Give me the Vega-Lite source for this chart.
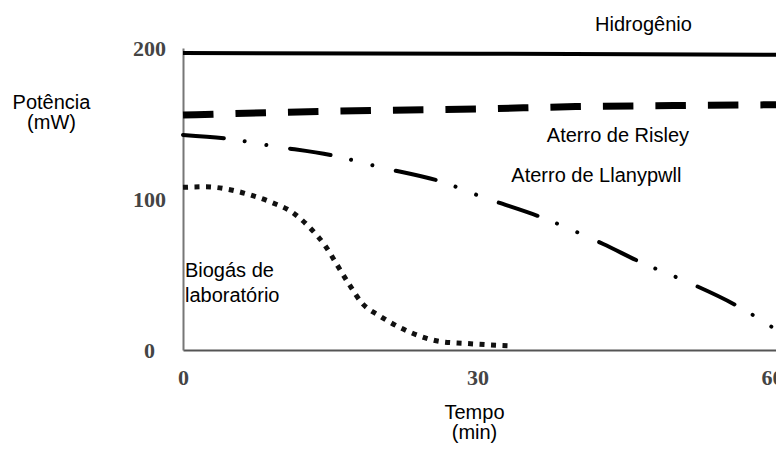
{
  "$schema": "https://vega.github.io/schema/vega-lite/v6.json",
  "width": 593,
  "height": 302,
  "autosize": {"type": "none"},
  "padding": {"left": 183, "top": 48, "right": 0, "bottom": 104},
  "background": "white",
  "config": {"view": {"stroke": null}, "font": "Liberation Sans"},
  "datasets": {
    "curves": [
      {"serie": "Hidrogênio", "t": 0, "p": 196.7},
      {"serie": "Hidrogênio", "t": 30, "p": 196.2},
      {"serie": "Hidrogênio", "t": 60.4, "p": 195.5},

      {"serie": "Risley", "t": 0, "p": 155.6},
      {"serie": "Risley", "t": 10, "p": 157.4},
      {"serie": "Risley", "t": 20, "p": 158.7},
      {"serie": "Risley", "t": 30, "p": 159.6},
      {"serie": "Risley", "t": 40, "p": 161.2},
      {"serie": "Risley", "t": 50, "p": 161.9},
      {"serie": "Risley", "t": 60.4, "p": 162.4},

      {"serie": "Llanypwll", "t": 0, "p": 142.4},
      {"serie": "Llanypwll", "t": 4.8, "p": 139.7},
      {"serie": "Llanypwll", "t": 9.1, "p": 135.1},
      {"serie": "Llanypwll", "t": 15.5, "p": 128.5},
      {"serie": "Llanypwll", "t": 20, "p": 121.2},
      {"serie": "Llanypwll", "t": 26.4, "p": 111.3},
      {"serie": "Llanypwll", "t": 30.5, "p": 101.3},
      {"serie": "Llanypwll", "t": 36.7, "p": 87.4},
      {"serie": "Llanypwll", "t": 42.8, "p": 70.2},
      {"serie": "Llanypwll", "t": 46.8, "p": 57.6},
      {"serie": "Llanypwll", "t": 50.9, "p": 46.4},
      {"serie": "Llanypwll", "t": 57, "p": 27.2},
      {"serie": "Llanypwll", "t": 60.3, "p": 13.9},

      {"serie": "Biogás", "t": 0, "p": 107.7},
      {"serie": "Biogás", "t": 2.3, "p": 108.1},
      {"serie": "Biogás", "t": 4.6, "p": 106.4},
      {"serie": "Biogás", "t": 6.9, "p": 102.6},
      {"serie": "Biogás", "t": 9.0, "p": 97.8},
      {"serie": "Biogás", "t": 11.2, "p": 90.9},
      {"serie": "Biogás", "t": 12.9, "p": 81.1},
      {"serie": "Biogás", "t": 14.5, "p": 68.9},
      {"serie": "Biogás", "t": 15.7, "p": 56.3},
      {"serie": "Biogás", "t": 16.9, "p": 43.7},
      {"serie": "Biogás", "t": 18.2, "p": 31.3},
      {"serie": "Biogás", "t": 20.0, "p": 22.7},
      {"serie": "Biogás", "t": 22.0, "p": 15.2},
      {"serie": "Biogás", "t": 24.1, "p": 9.3},
      {"serie": "Biogás", "t": 26.3, "p": 5.5},
      {"serie": "Biogás", "t": 28.7, "p": 4.4},
      {"serie": "Biogás", "t": 31.0, "p": 3.5},
      {"serie": "Biogás", "t": 33.3, "p": 2.8}
    ],
    "labels": [
      {"label": "Hidrogênio", "t": 46.9, "p": 211.3},
      {"label": "Aterro de Risley", "t": 44.3, "p": 137.5},
      {"label": "Aterro de Llanypwll", "t": 42.1, "p": 111.5}
    ],
    "sideLabels": [
      {"label": "Biogás de\nlaboratório", "t": 0.2, "p": 48.1}
    ]
  },
  "encoding": {
    "x": {
      "field": "t",
      "type": "quantitative",
      "scale": {"domain": [0, 60.4], "nice": false, "zero": false},
      "axis": {
        "values": [0, 30, 60],
        "ticks": false,
        "grid": false,
        "domainColor": "#555",
        "domainWidth": 2,
        "labelFont": "Liberation Serif",
        "labelFontSize": 22,
        "labelFontWeight": "bold",
        "labelColor": "#444",
        "labelBaseline": "middle",
        "labelPadding": 27,
        "labelFlush": false,
        "title": ["Tempo", "(min)"],
        "titleFont": "Liberation Sans",
        "titleFontSize": 20,
        "titleFontWeight": "normal",
        "titleColor": "#000",
        "titleLineHeight": 20,
        "titleAnchor": "start",
        "titleAlign": "center",
        "titleBaseline": "alphabetic",
        "titleX": 291,
        "titleY": 68
      }
    },
    "y": {
      "field": "p",
      "type": "quantitative",
      "scale": {"domain": [0, 200], "nice": false},
      "axis": {
        "values": [0, 100, 200],
        "ticks": false,
        "grid": false,
        "domainColor": "#777",
        "domainWidth": 2,
        "labelFont": "Liberation Serif",
        "labelFontSize": 22,
        "labelFontWeight": "bold",
        "labelColor": "#444",
        "labelAlign": "center",
        "labelBaseline": "middle",
        "labelPadding": 34,
        "title": ["Potência", "(mW)"],
        "titleFont": "Liberation Sans",
        "titleFontSize": 20,
        "titleFontWeight": "normal",
        "titleColor": "#000",
        "titleLineHeight": 20,
        "titleAngle": 0,
        "titleAlign": "center",
        "titleBaseline": "alphabetic",
        "titleX": -132,
        "titleY": 60
      }
    }
  },
  "layer": [
    {
      "data": {"name": "curves"},
      "transform": [{"filter": "datum.serie === 'Hidrogênio'"}],
      "mark": {"type": "line", "color": "#000", "strokeWidth": 4, "interpolate": "monotone"}
    },
    {
      "data": {"name": "curves"},
      "transform": [{"filter": "datum.serie === 'Risley'"}],
      "mark": {"type": "line", "color": "#000", "strokeWidth": 7, "strokeDash": [30.5, 22], "strokeCap": "butt", "interpolate": "monotone"}
    },
    {
      "data": {"name": "curves"},
      "transform": [{"filter": "datum.serie === 'Llanypwll'"}],
      "mark": {"type": "line", "color": "#000", "strokeWidth": 4, "strokeDash": [41, 21, 0.01, 22, 0.01, 24], "strokeCap": "round", "interpolate": "monotone"}
    },
    {
      "data": {"name": "curves"},
      "transform": [{"filter": "datum.serie === 'Biogás'"}],
      "mark": {"type": "line", "color": "#111", "strokeWidth": 5, "strokeDash": [5, 6.5], "strokeCap": "butt", "interpolate": "monotone"}
    },
    {
      "data": {"name": "labels"},
      "mark": {"type": "text", "font": "Liberation Sans", "fontSize": 20, "color": "#000", "align": "center", "baseline": "alphabetic"},
      "encoding": {"text": {"field": "label"}}
    },
    {
      "data": {"name": "sideLabels"},
      "mark": {"type": "text", "font": "Liberation Sans", "fontSize": 20, "color": "#000", "align": "left", "baseline": "alphabetic", "lineBreak": "\n", "lineHeight": 24.5},
      "encoding": {"text": {"field": "label"}}
    }
  ]
}
